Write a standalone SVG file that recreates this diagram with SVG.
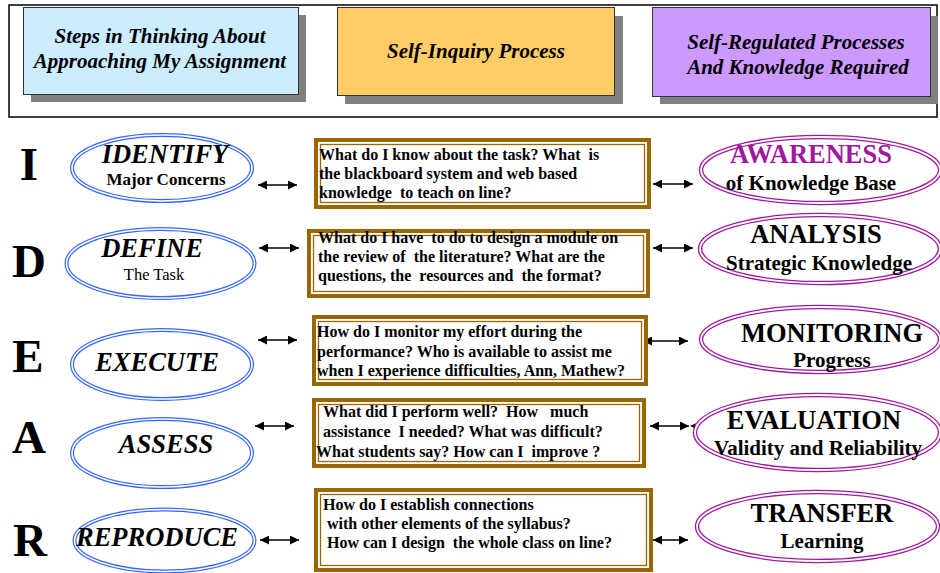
<svg xmlns="http://www.w3.org/2000/svg" width="940" height="573" viewBox="0 0 940 573" font-family="'Liberation Serif', 'DejaVu Serif', serif">
  <defs>
    <style>
      text { font-family: "Liberation Serif", "DejaVu Serif", serif; fill: #000; }
      .hdr { font-size: 21px; font-weight: bold; font-style: italic; text-anchor: middle; }
      .shadow { fill: #808080; }
      .hbox { stroke: #333; stroke-width: 1; }
      .big { font-size: 47px; font-weight: bold; text-anchor: middle; }
      .step { font-size: 26.5px; font-weight: bold; font-style: italic; text-anchor: middle; }
      .sub { font-size: 17px; font-weight: bold; text-anchor: middle; }
      .subr { font-size: 16.5px; text-anchor: middle; }
      .q { font-size: 16px; font-weight: bold; }
      .proc { font-size: 26.5px; font-weight: bold; text-anchor: middle; }
      .proc2 { font-size: 21px; font-weight: bold; text-anchor: middle; }
      .blueO { fill: #fff; stroke: #3366ff; stroke-width: 4; }
      .blueI { fill: none; stroke: #fff; stroke-width: 1.6; }
      .purO { fill: #fff; stroke: #a0189f; stroke-width: 4.4; }
      .purI { fill: none; stroke: #fff; stroke-width: 1.8; }
      .frameO { fill: #fff; stroke: #996600; stroke-width: 4; }
      .frameI { fill: none; stroke: #996600; stroke-width: 1.3; }
      .conn { stroke: #000; stroke-width: 1.3; fill: none; marker-start: url(#ah); marker-end: url(#ah); }
    </style>
    <marker id="ah" viewBox="0 0 10 10" refX="10" refY="5" markerWidth="11" markerHeight="9" markerUnits="userSpaceOnUse" orient="auto-start-reverse">
      <path d="M0,0 L10,5 L0,10 z" fill="#000"/>
    </marker>
  </defs>

  <rect width="940" height="573" fill="#fff"/>

  <!-- header band -->
  <g id="header">
    <rect x="9" y="5" width="928" height="112" fill="#fff" stroke="#000" stroke-width="1.5"/>
    <g id="hdr-steps">
      <rect class="shadow" x="31" y="15" width="275" height="87"/>
      <rect class="hbox" x="23.5" y="7.5" width="275" height="87" fill="#ccecff"/>
      <text class="hdr" x="160" y="43">Steps in Thinking About</text>
      <text class="hdr" x="160" y="68">Approaching My Assignment</text>
    </g>
    <g id="hdr-inquiry">
      <rect class="shadow" x="345" y="16" width="278" height="88"/>
      <rect class="hbox" x="337.5" y="7.5" width="277" height="88" fill="#ffcc66"/>
      <text class="hdr" x="476" y="58">Self-Inquiry Process</text>
    </g>
    <g id="hdr-regulated">
      <rect class="shadow" x="660" y="16" width="278" height="88"/>
      <rect class="hbox" x="652.5" y="7.5" width="278" height="89" fill="#cc99ff"/>
      <text class="hdr" x="796" y="49">Self-Regulated Processes</text>
      <text class="hdr" x="798" y="74">And Knowledge Required</text>
    </g>
  </g>

  <!-- IDEAR letters -->
  <g id="letters">
    <text class="big" x="29" y="180">I</text>
    <text class="big" x="29" y="277">D</text>
    <text class="big" x="28" y="372">E</text>
    <text class="big" x="29" y="453">A</text>
    <text class="big" x="30" y="556">R</text>
  </g>

  <!-- connectors -->
  <g id="connectors">
    <line class="conn" x1="258" y1="185" x2="297" y2="185"/>
    <line class="conn" x1="259" y1="248" x2="299" y2="248"/>
    <line class="conn" x1="258" y1="340" x2="297" y2="340"/>
    <line class="conn" x1="255" y1="426" x2="294" y2="426"/>
    <line class="conn" x1="260" y1="540" x2="299" y2="540"/>
    <line class="conn" x1="653" y1="184" x2="693" y2="184"/>
    <line class="conn" x1="653" y1="248" x2="693" y2="248"/>
    <line class="conn" x1="643" y1="341" x2="688" y2="341"/>
    <line class="conn" x1="650" y1="426" x2="689" y2="426"/>
    <path d="M690,426 L701,421 L701,431 z" fill="#000"/>
    <path d="M702,421 L711,417 L711,425 z" fill="#000"/>
    <line class="conn" x1="653" y1="540" x2="688" y2="540"/>
  </g>

  <!-- step ellipses -->
  <g id="identify">
    <ellipse class="blueO" cx="162" cy="168" rx="90" ry="33"/>
    <ellipse class="blueI" cx="162" cy="168" rx="90" ry="33"/>
    <text class="step" x="165" y="163">IDENTIFY</text>
    <text class="sub" x="166" y="185">Major Concerns</text>
  </g>
  <g id="define">
    <ellipse class="blueO" cx="160.5" cy="263.5" rx="94" ry="34.5"/>
    <ellipse class="blueI" cx="160.5" cy="263.5" rx="94" ry="34.5"/>
    <text class="step" x="152" y="257">DEFINE</text>
    <text class="subr" x="154" y="280">The Task</text>
  </g>
  <g id="execute">
    <ellipse class="blueO" cx="162" cy="364.5" rx="90" ry="34.5"/>
    <ellipse class="blueI" cx="162" cy="364.5" rx="90" ry="34.5"/>
    <text class="step" x="157" y="371">EXECUTE</text>
  </g>
  <g id="assess">
    <ellipse class="blueO" cx="162" cy="453" rx="90" ry="34"/>
    <ellipse class="blueI" cx="162" cy="453" rx="90" ry="34"/>
    <text class="step" x="166" y="453">ASSESS</text>
  </g>
  <g id="reproduce">
    <ellipse class="blueO" cx="164.5" cy="540.5" rx="90" ry="31"/>
    <ellipse class="blueI" cx="164.5" cy="540.5" rx="90" ry="31"/>
    <text class="step" x="157" y="546">REPRODUCE</text>
  </g>

  <!-- self-inquiry question boxes -->
  <g id="q-identify">
    <rect class="frameO" x="316" y="140" width="333" height="67"/>
    <rect class="frameI" x="320.5" y="144.5" width="324" height="58"/>
    <text class="q" xml:space="preserve" x="319" y="160">What do I know about the task? What  is</text>
    <text class="q" x="319" y="179">the blackboard system and web based</text>
    <text class="q" xml:space="preserve" x="319" y="198">knowledge  to teach on line?</text>
  </g>
  <g id="q-define">
    <rect class="frameO" x="309" y="231" width="339" height="65"/>
    <rect class="frameI" x="313.5" y="235.5" width="330" height="56"/>
    <text class="q" xml:space="preserve" x="318" y="243">What do I have  to do to design a module on</text>
    <text class="q" xml:space="preserve" x="318" y="262">the review of  the literature? What are the</text>
    <text class="q" xml:space="preserve" x="318" y="281">questions, the  resources and  the format?</text>
  </g>
  <g id="q-execute">
    <rect class="frameO" x="314" y="317" width="332" height="67"/>
    <rect class="frameI" x="318.5" y="321.5" width="323" height="58"/>
    <text class="q" x="317" y="337">How do I monitor my effort during the</text>
    <text class="q" x="317" y="357">performance? Who is available to assist me</text>
    <text class="q" x="317" y="376">when I experience difficulties, Ann, Mathew?</text>
  </g>
  <g id="q-assess">
    <rect class="frameO" x="314" y="400" width="330" height="66"/>
    <rect class="frameI" x="318.5" y="404.5" width="321" height="57"/>
    <text class="q" xml:space="preserve" x="323" y="417">What did I perform well?  How   much</text>
    <text class="q" xml:space="preserve" x="323" y="437">assistance  I needed? What was difficult?</text>
    <text class="q" xml:space="preserve" x="316" y="457">What students say? How can I  improve ?</text>
  </g>
  <g id="q-reproduce">
    <rect class="frameO" x="316" y="490" width="335" height="80"/>
    <rect class="frameI" x="320.5" y="494.5" width="326" height="71"/>
    <text class="q" x="323" y="510">How do I establish connections</text>
    <text class="q" x="327" y="529">with other elements of the syllabus?</text>
    <text class="q" xml:space="preserve" x="327" y="548">How can I design  the whole class on line?</text>
  </g>

  <!-- self-regulated process ellipses -->
  <g id="awareness">
    <ellipse class="purO" cx="820.5" cy="170" rx="119.5" ry="33"/>
    <ellipse class="purI" cx="820.5" cy="170" rx="119.5" ry="33"/>
    <text class="proc" x="811" y="163" style="fill:#a0189f">AWARENESS</text>
    <text class="proc2" x="811" y="190">of Knowledge Base</text>
  </g>
  <g id="analysis">
    <ellipse class="purO" cx="820" cy="249" rx="120" ry="34"/>
    <ellipse class="purI" cx="820" cy="249" rx="120" ry="34"/>
    <text class="proc" x="816" y="243">ANALYSIS</text>
    <text class="proc2" x="819" y="270">Strategic Knowledge</text>
  </g>
  <g id="monitoring">
    <ellipse class="purO" cx="820.5" cy="339.5" rx="119.5" ry="32.5"/>
    <ellipse class="purI" cx="820.5" cy="339.5" rx="119.5" ry="32.5"/>
    <text class="proc" x="832" y="342">MONITORING</text>
    <text class="proc2" x="832" y="367">Progress</text>
  </g>
  <g id="evaluation">
    <ellipse class="purO" cx="817.5" cy="432.5" rx="122.5" ry="37.5"/>
    <ellipse class="purI" cx="817.5" cy="432.5" rx="122.5" ry="37.5"/>
    <text class="proc" x="814" y="429">EVALUATION</text>
    <text class="proc2" x="818" y="455">Validity and Reliability</text>
  </g>
  <g id="transfer">
    <ellipse class="purO" cx="817.5" cy="526.5" rx="120.5" ry="34.5"/>
    <ellipse class="purI" cx="817.5" cy="526.5" rx="120.5" ry="34.5"/>
    <text class="proc" x="822" y="522">TRANSFER</text>
    <text class="proc2" x="822" y="548">Learning</text>
  </g>
</svg>
